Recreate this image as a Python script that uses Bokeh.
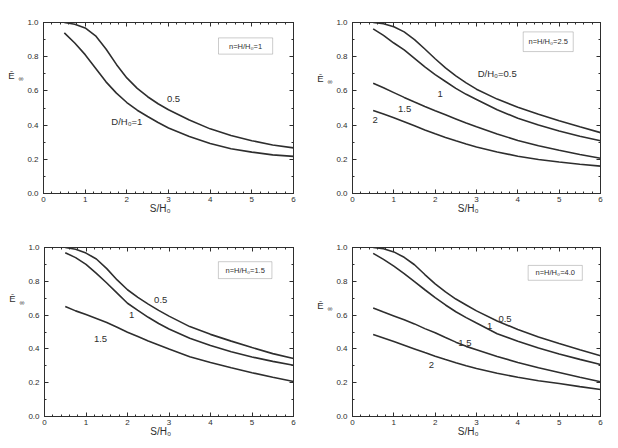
from bokeh.plotting import figure
from bokeh.models import (Range1d, FixedTicker, LinearAxis, Label, BoxAnnotation,
                          PrintfTickFormatter)
from bokeh.layouts import row, column
from bokeh.embed import file_html
from bokeh.resources import INLINE

# ---------------- data ----------------
s_h0 = [0.5, 0.75, 1.0, 1.25, 1.5, 1.75, 2.0, 2.25, 2.5, 2.75, 3.0, 3.5, 4.0, 4.5, 5.0, 5.5, 6.0]

# n = H/H0 = 1
n1_d05 = [1.0, 0.99, 0.968, 0.922, 0.845, 0.755, 0.676, 0.615, 0.566, 0.525, 0.49, 0.43, 0.378, 0.339, 0.309, 0.284, 0.267]
n1_d10 = [0.939, 0.88, 0.812, 0.733, 0.653, 0.587, 0.532, 0.487, 0.45, 0.415, 0.383, 0.333, 0.292, 0.262, 0.242, 0.226, 0.217]

# n = H/H0 = 2.5
n25_d05 = [1.0, 0.993, 0.975, 0.945, 0.9, 0.845, 0.788, 0.735, 0.688, 0.647, 0.61, 0.552, 0.505, 0.463, 0.425, 0.39, 0.356]
n25_d10 = [0.963, 0.925, 0.88, 0.84, 0.79, 0.74, 0.695, 0.655, 0.615, 0.58, 0.55, 0.49, 0.44, 0.40, 0.365, 0.335, 0.308]
n25_d15 = [0.645, 0.618, 0.59, 0.562, 0.535, 0.509, 0.484, 0.46, 0.436, 0.412, 0.39, 0.348, 0.31, 0.279, 0.253, 0.228, 0.206]
n25_d20 = [0.486, 0.465, 0.443, 0.42, 0.396, 0.372, 0.349, 0.328, 0.308, 0.289, 0.272, 0.243, 0.218, 0.199, 0.184, 0.171, 0.16]

# n = H/H0 = 1.5
n15_d05 = [1.0, 0.99, 0.967, 0.932, 0.875, 0.808, 0.75, 0.705, 0.665, 0.628, 0.594, 0.532, 0.486, 0.446, 0.408, 0.372, 0.343]
n15_d10 = [0.969, 0.94, 0.9, 0.847, 0.79, 0.73, 0.67, 0.628, 0.587, 0.55, 0.518, 0.463, 0.42, 0.383, 0.352, 0.326, 0.303]
n15_d15 = [0.651, 0.625, 0.603, 0.58, 0.556, 0.528, 0.499, 0.473, 0.447, 0.423, 0.399, 0.354, 0.32, 0.288, 0.259, 0.232, 0.207]

# n = H/H0 = 4.0
n40_d05 = [1.0, 0.993, 0.974, 0.942, 0.898, 0.84, 0.785, 0.737, 0.695, 0.66, 0.625, 0.565, 0.515, 0.47, 0.432, 0.395, 0.36]
n40_d10 = [0.965, 0.93, 0.89, 0.846, 0.798, 0.75, 0.703, 0.66, 0.62, 0.585, 0.553, 0.49, 0.445, 0.405, 0.37, 0.338, 0.308]
n40_d15 = [0.642, 0.618, 0.595, 0.572, 0.548, 0.52, 0.495, 0.467, 0.44, 0.415, 0.395, 0.355, 0.32, 0.288, 0.26, 0.232, 0.206]
n40_d20 = [0.485, 0.465, 0.444, 0.422, 0.4, 0.378, 0.357, 0.337, 0.318, 0.3, 0.284, 0.256, 0.232, 0.212, 0.195, 0.177, 0.16]

x_ticks = [0, 1, 2, 3, 4, 5, 6]
y_ticks = [0.0, 0.2, 0.4, 0.6, 0.8, 1.0]
x_minor = [i * 0.2 for i in range(31)]
y_minor = [i * 0.1 for i in range(11)]

FONT = "Liberation Sans"
INK = "#2e2e2e"
NBSP = "\u00a0"


def style(ax, show_labels):
    ax.axis_line_color = INK
    ax.major_tick_line_color = INK
    ax.minor_tick_line_color = INK
    ax.major_tick_in = 4
    ax.major_tick_out = 0
    ax.minor_tick_in = 2
    ax.minor_tick_out = 0
    ax.major_label_text_font = FONT
    ax.major_label_text_color = INK
    if show_labels:
        ax.major_label_text_font_size = "8px"
    else:
        ax.major_label_text_font_size = "1px"
        ax.major_label_text_alpha = 0
        ax.major_label_standoff = 0


def title_axis(text, size, shift):
    # an empty axis used only to carry a horizontal title, lifted by "shift" px
    ax = LinearAxis(ticker=FixedTicker(ticks=[], minor_ticks=[]))
    ax.axis_line_color = None
    ax.major_tick_line_color = None
    ax.minor_tick_line_color = None
    ax.major_tick_in = 0
    ax.major_tick_out = 0
    ax.minor_tick_in = 0
    ax.minor_tick_out = 0
    ax.axis_label = text + "\n"
    ax.axis_label_orientation = "horizontal"
    ax.axis_label_standoff = 1
    ax.axis_label_text_font = FONT
    ax.axis_label_text_font_style = "normal"
    ax.axis_label_text_font_size = f"{size}px"
    ax.axis_label_text_color = INK
    ax.axis_label_text_line_height = 2 * shift / (1.15 * size)
    return ax


def make_panel(width, height, borders, curves, labels, box, box_text, ylab_y):
    left, right, top, bottom = borders
    p = figure(width=width, height=height, output_backend="svg", toolbar_location=None,
               x_range=Range1d(0, 6), y_range=Range1d(0, 1),
               min_border_left=left, min_border_right=right,
               min_border_top=top, min_border_bottom=bottom,
               background_fill_color="#ffffff", border_fill_color="#ffffff")
    p.grid.visible = False
    p.outline_line_color = INK
    p.outline_line_width = 1

    for ys in curves:
        p.line(s_h0, ys, line_color=INK, line_width=1.6)

    xt = FixedTicker(ticks=x_ticks, minor_ticks=x_minor)
    yt = FixedTicker(ticks=y_ticks, minor_ticks=y_minor)

    p.xaxis.ticker = xt
    p.yaxis.ticker = yt
    style(p.xaxis[0], True)
    style(p.yaxis[0], True)
    p.yaxis.formatter = PrintfTickFormatter(format="%.1f")
    p.xaxis.major_label_standoff = 3
    p.yaxis.major_label_standoff = 5

    # x axis title (sits a little left of centre, as in the original)
    p.xaxis.axis_label = "S/H\u2080" + NBSP * 6
    p.xaxis.axis_label_text_font = FONT
    p.xaxis.axis_label_text_font_style = "normal"
    p.xaxis.axis_label_text_font_size = "10px"
    p.xaxis.axis_label_text_color = INK
    p.xaxis.axis_label_standoff = -2

    # mirrored ticks on top and right
    ra = LinearAxis(ticker=yt)
    style(ra, False)
    p.add_layout(ra, "right")
    ta = LinearAxis(ticker=xt)
    style(ta, False)
    p.add_layout(ta, "above")

    # y axis title: E-bar with subscript infinity
    frame_h = height - top - bottom
    shift = (ylab_y - 0.5) * frame_h
    p.add_layout(title_axis("\u221e", 7, shift + 1), "left")
    p.add_layout(title_axis("\u0112", 9.5, shift), "left")

    for (lx, ly, txt) in labels:
        p.add_layout(Label(x=lx, y=ly, text=txt, text_font=FONT, text_font_size="9.5px",
                           text_color=INK, text_align="center", text_baseline="middle"))

    bl, br, bb, bt = box
    p.add_layout(BoxAnnotation(left=bl, right=br, bottom=bb, top=bt,
                               fill_color="#ffffff", fill_alpha=1.0,
                               line_color="#555555", line_width=1, level="annotation"))
    p.add_layout(Label(x=(bl + br) / 2, y=(bb + bt) / 2, text=box_text, text_font=FONT,
                       text_font_size="7.5px", text_color=INK,
                       text_align="center", text_baseline="middle"))
    return p


p1 = make_panel(309, 230, (43, 16, 22, 36), [n1_d05, n1_d10],
                [(3.12, 0.555, "0.5"), (2.0, 0.42, "D/H\u2080=1")],
                (4.2, 5.5, 0.815, 0.91), "n=H/H\u2080=1", 0.69)
p2 = make_panel(309, 230, (43, 18, 20, 37), [n25_d05, n25_d10, n25_d15, n25_d20],
                [(3.5, 0.70, "D/H\u2080=0.5"), (2.12, 0.58, "1"), (1.26, 0.495, "1.5"), (0.55, 0.43, "2")],
                (4.13, 5.34, 0.83, 0.945), "n=H/H\u2080=2.5", 0.67)
p3 = make_panel(309, 218, (44, 16, 17, 27), [n15_d05, n15_d10, n15_d15],
                [(2.8, 0.69, "0.5"), (2.1, 0.6, "1"), (1.35, 0.456, "1.5")],
                (4.19, 5.48, 0.816, 0.916), "n=H/H\u2080=1.5", 0.69)
p4 = make_panel(309, 218, (43, 18, 13, 32), [n40_d05, n40_d10, n40_d15, n40_d20],
                [(3.69, 0.575, "0.5"), (3.32, 0.533, "1"), (2.72, 0.433, "1.5"), (1.91, 0.306, "2")],
                (4.25, 5.56, 0.806, 0.894), "n=H/H\u2080=4.0", 0.65)

layout = column(row(p1, p2), row(p3, p4))
open("out.html", "w").write(file_html(layout, INLINE))
